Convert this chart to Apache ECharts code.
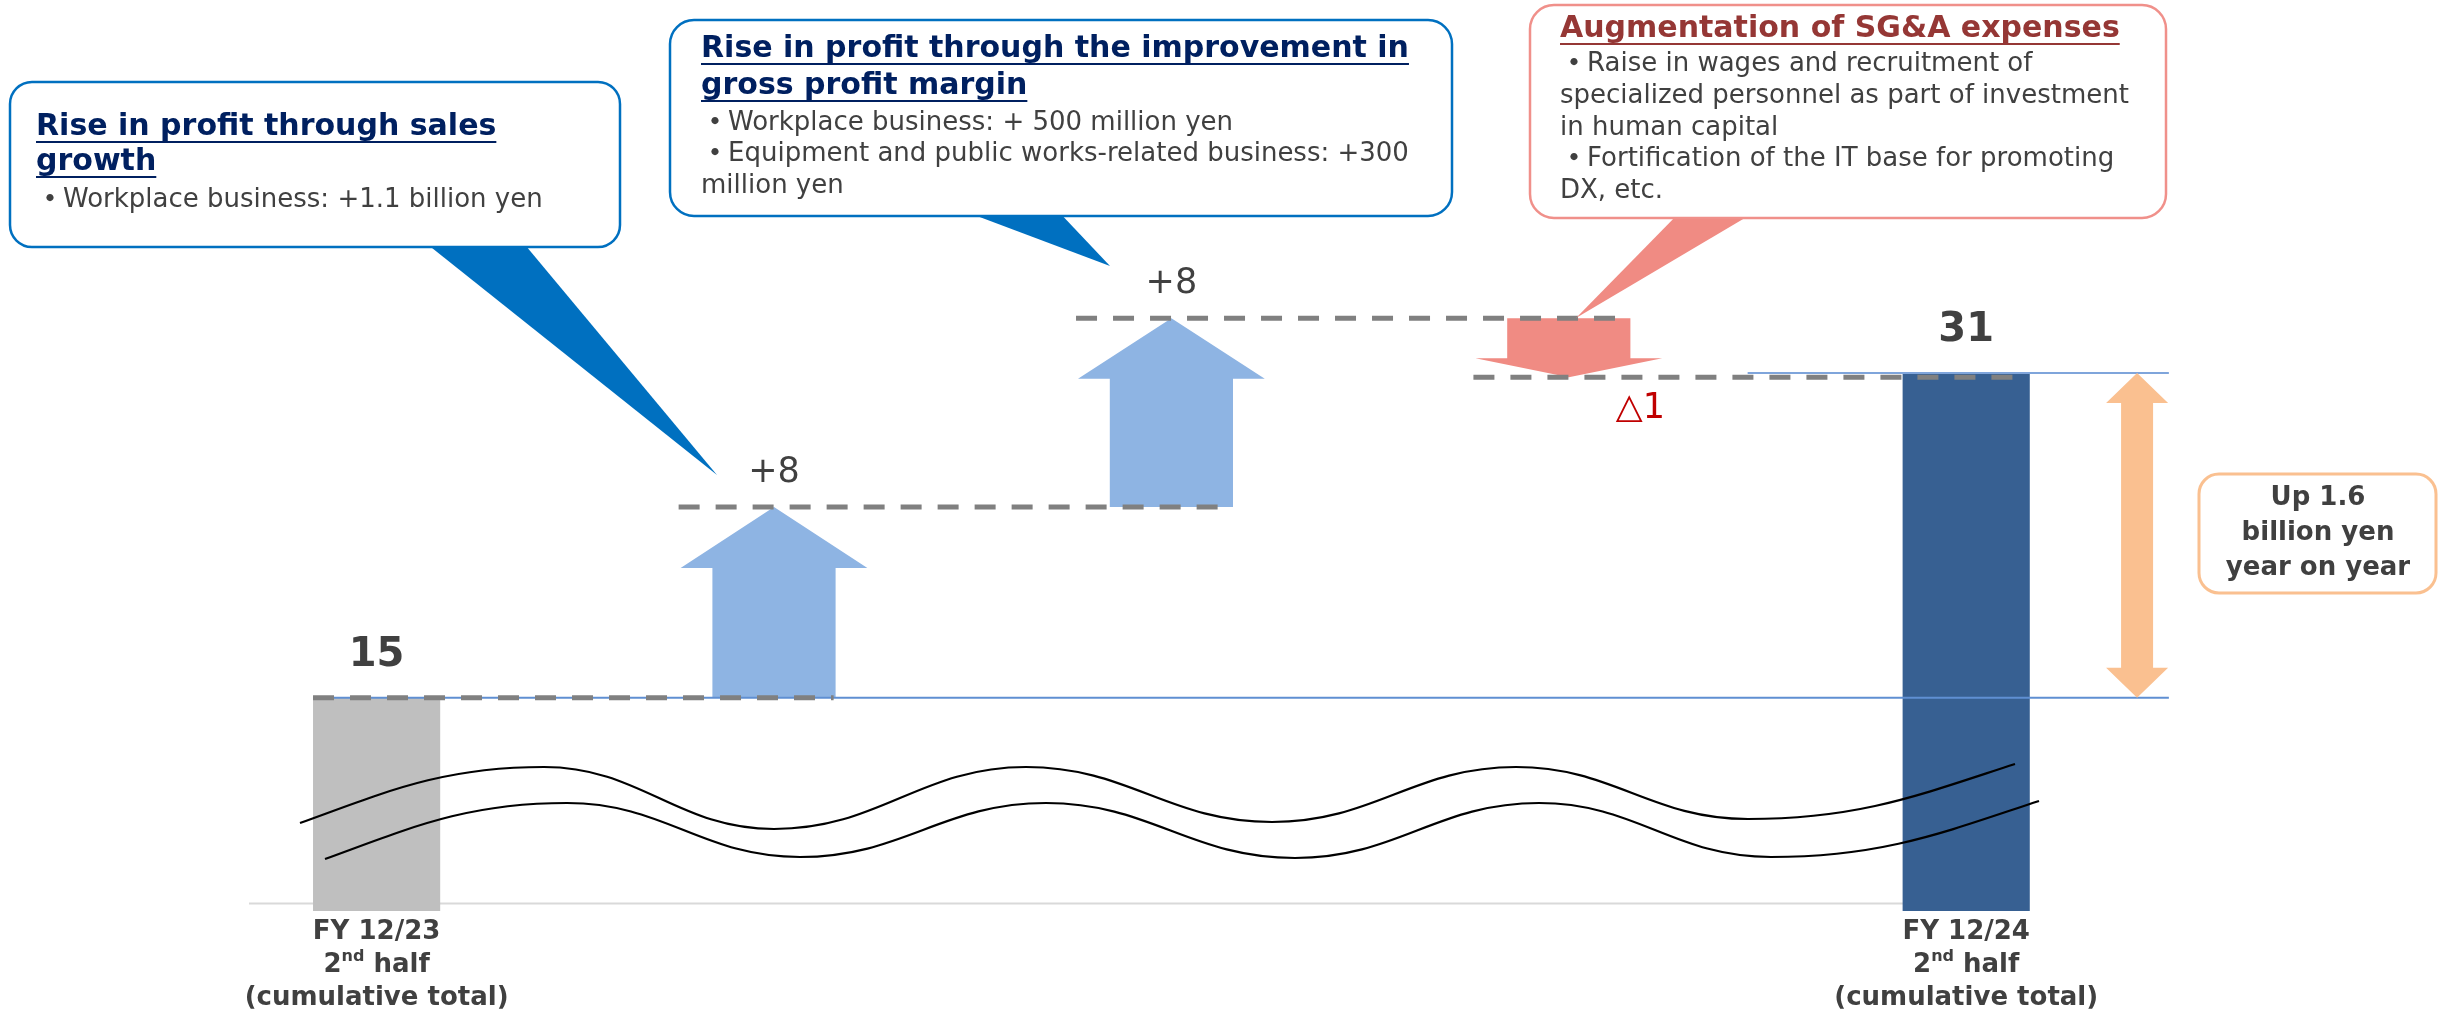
<!DOCTYPE html>
<html><head><meta charset="utf-8">
<script src="https://cdn.jsdelivr.net/npm/echarts@6/dist/echarts.min.js"></script>
<style>html,body{margin:0;padding:0;background:#fff}#chart{width:2438px;height:1014px}</style>
</head><body><div id="chart"></div>
<script>
// ---------------- data ----------------
const categories = ['FY 12/23 2nd half (cumulative total)', 'Sales growth', 'Gross profit margin improvement', 'SG&A expenses', 'FY 12/24 2nd half (cumulative total)'];
const periodNames = ['FY 12/23', '', '', '', 'FY 12/24'];
const totalIndex = [0, 4];
const totalValues = [15, 31];
// steps of the bridge (levels as drawn in the picture, broken axis)
const stepIndex = [1, 2, 3];
const stepFrom = [15, 24.4, 33.7];
const stepTo = [24.4, 33.7, 30.8];
const stepLabels = ['+8', '+8', '\u25B31'];
const yoyText = ['Up 1.6', 'billion yen', 'year on year'];

// ---------------- helpers ----------------
const FONT = '"DejaVu Sans", "Noto Sans CJK JP", sans-serif';
const BULLET_FONT = '"Noto Sans CJK JP", sans-serif';
const BULLET = '\u30FB';
const Y_MIN = 4.5, Y_MAX = 48;
const mctx = document.createElement('canvas').getContext('2d');
function textW(t, font) { mctx.font = font; return mctx.measureText(t).width; }
function textEl(t, x, baseline, size, weight, color, align, family) {
  return { type: 'text', x: x, y: baseline - 0.346 * size, z: 52,
    style: { text: t, font: weight + ' ' + size + 'px ' + (family || FONT), fill: color,
      align: align || 'left', verticalAlign: 'middle', textAlign: align || 'left', textVerticalAlign: 'middle' } };
}
function callout(c) {
  const els = [];
  els.push({ type: 'polygon', z: 49, shape: { points: c.pointer }, style: { fill: c.pointerColor } });
  els.push({ type: 'rect', z: 50, shape: { x: c.x, y: c.y, width: c.w, height: c.h, r: c.r }, style: { fill: '#ffffff', stroke: c.border, lineWidth: 2.5 } });
  c.title.forEach(function (t, k) {
    const b = c.titleBase[k];
    els.push(textEl(t, c.tx, b, 30, 'bold', c.titleColor));
    const w = textW(t, 'bold 30px ' + FONT);
    els.push({ type: 'rect', z: 52, shape: { x: c.tx, y: b + 3, width: w, height: 2 }, style: { fill: c.titleColor } });
  });
  c.body.forEach(function (t, k) {
    const b = c.bodyBase[k];
    if (t.charAt(0) === BULLET) {
      els.push(textEl(BULLET, c.tx, b - 1, 28, 'bold', '#404040', 'left', BULLET_FONT));
      els.push(textEl(t.slice(1), c.tx + 27, b, 26, 'normal', '#404040'));
    } else {
      els.push(textEl(t, c.tx, b, 26, 'normal', '#404040'));
    }
  });
  return els;
}
function wave(pts) {
  const segs = [];
  for (let k = 0; k < pts.length - 1; k++) {
    const x0 = pts[k][0], y0 = pts[k][1], x1 = pts[k + 1][0], y1 = pts[k + 1][1];
    const dx = x1 - x0, dy = y1 - y0;
    let c1 = [x0 + 0.42 * dx, y0], c2 = [x1 - 0.42 * dx, y1];
    if (k === 0) c1 = [x0 + 0.35 * dx, y0 + 0.55 * dy];
    if (k === pts.length - 2) c2 = [x1 - 0.35 * dx, y1 - 0.55 * dy];
    segs.push({ type: 'bezierCurve', z: 60,
      shape: { x1: x0, y1: y0, x2: x1, y2: y1, cpx1: c1[0], cpy1: c1[1], cpx2: c2[0], cpy2: c2[1] },
      style: { stroke: '#000000', lineWidth: 2.2, fill: 'none' } });
  }
  return segs;
}

// ---------------- series renderers ----------------
function renderTotal(params, api) {
  const i = api.value(0), v = api.value(1);
  const band = api.size([1, 0])[0];
  const top = api.coord([i, v]);
  const base = api.coord([i, Y_MIN]);
  const w = band * 0.32;
  return { type: 'group', children: [
    { type: 'rect', shape: { x: top[0] - w / 2, y: top[1], width: w, height: base[1] - top[1] },
      style: { fill: i === 0 ? '#BFBFBF' : '#376092' } },
    { type: 'text', x: top[0], y: top[1] - 42,
      style: { text: String(v), font: 'bold 40px ' + FONT, fill: '#404040', align: 'center', verticalAlign: 'middle', textAlign: 'center', textVerticalAlign: 'middle' } }
  ] };
}
function renderStep(params, api) {
  const i = api.value(0), from = api.value(1), to = api.value(2);
  const band = api.size([1, 0])[0];
  const p0 = api.coord([i, from]), p1 = api.coord([i, to]);
  const cx = p0[0];
  const sw = band * 0.31 / 2, hw = band * 0.47 / 2;
  const len = p1[1] - p0[1];
  const hy = p1[1] - len * 0.32;
  const up = to > from;
  const pts = [[cx - sw, p0[1]], [cx - sw, hy], [cx - hw, hy], [cx, p1[1]], [cx + hw, hy], [cx + sw, hy], [cx + sw, p0[1]]];
  const lab = stepLabels[params.dataIndex];
  return { type: 'group', children: [
    { type: 'polygon', shape: { points: pts }, style: { fill: up ? '#8EB4E3' : '#F08B83' } },
    { type: 'text', x: up ? cx : cx + band * 0.18, y: up ? p1[1] - 34 : p1[1] + 32,
      style: { text: lab, font: 'normal 35px ' + FONT, fill: up ? '#404040' : '#C00000', align: 'center', verticalAlign: 'middle', textAlign: 'center', textVerticalAlign: 'middle' } }
  ] };
}
function renderConnector(params, api) {
  const i = api.value(0), lv = api.value(1);
  const band = api.size([1, 0])[0];
  const a = api.coord([i, lv]), b = api.coord([i + 1, lv]);
  const x1 = a[0] - band * (i === 0 ? 0.16 : 0.24), x2 = b[0] + band * 0.15;
  return { type: 'line', shape: { x1: x1, y1: a[1], x2: x2, y2: a[1] },
    style: { stroke: '#808080', lineWidth: 5, lineDash: [21, 16] } };
}
function renderYoy(params, api) {
  const i = api.value(0), from = api.value(1), to = api.value(2);
  const band = api.size([1, 0])[0];
  const lo = api.coord([i, from]), hi = api.coord([i, to]);
  const first = api.coord([totalIndex[0], from]);
  const right = lo[0] + band * 0.51;
  const ax = lo[0] + band * 0.43;
  const sw = 16, hw = 31, hl = 30;
  const yT = hi[1], yB = lo[1];
  const pts = [[ax, yT], [ax + hw, yT + hl], [ax + sw, yT + hl], [ax + sw, yB - hl], [ax + hw, yB - hl], [ax, yB],
    [ax - hw, yB - hl], [ax - sw, yB - hl], [ax - sw, yT + hl], [ax - hw, yT + hl]];
  return { type: 'group', children: [
    { type: 'line', shape: { x1: first[0] - band * 0.16, y1: yB, x2: right, y2: yB }, style: { stroke: '#5F8FD2', lineWidth: 2 } },
    { type: 'line', shape: { x1: lo[0] - band * 0.55, y1: yT, x2: right, y2: yT }, style: { stroke: '#7FA5DB', lineWidth: 2 } },
    { type: 'polygon', shape: { points: pts }, style: { fill: '#FAC090' } }
  ] };
}

// ---------------- graphic annotations ----------------
const graphics = [];
graphics.push({ type: 'line', z: 1, shape: { x1: 249, y1: 903.5, x2: 2027, y2: 903.5 }, style: { stroke: '#D9D9D9', lineWidth: 2 } });
callout({ x: 10, y: 82, w: 610, h: 165, r: 22, border: '#0070C0', pointerColor: '#0070C0',
  pointer: [[422, 240], [521, 240], [717, 475]], tx: 36, titleColor: '#002060',
  title: ['Rise in profit through sales', 'growth'], titleBase: [138, 173],
  body: ['\u30FBWorkplace business: +1.1 billion yen'], bodyBase: [209] }).forEach(e => graphics.push(e));
callout({ x: 670, y: 20, w: 782, h: 196, r: 24, border: '#0070C0', pointerColor: '#0070C0',
  pointer: [[961, 210], [1057, 210], [1110, 266]], tx: 701, titleColor: '#002060',
  title: ['Rise in profit through the improvement in', 'gross profit margin'], titleBase: [60, 97],
  body: ['\u30FBWorkplace business: + 500 million yen', '\u30FBEquipment and public works-related business: +300', 'million yen'],
  bodyBase: [132, 163, 195] }).forEach(e => graphics.push(e));
callout({ x: 1530, y: 5, w: 636, h: 213, r: 24, border: '#F0908A', pointerColor: '#F08B83',
  pointer: [[1680, 212], [1755, 212], [1576, 318]], tx: 1560, titleColor: '#953735',
  title: ['Augmentation of SG&A expenses'], titleBase: [40],
  body: ['\u30FBRaise in wages and recruitment of', 'specialized personnel as part of investment', 'in human capital', '\u30FBFortification of the IT base for promoting', 'DX, etc.'],
  bodyBase: [73, 105, 137, 168, 200] }).forEach(e => graphics.push(e));
graphics.push({ type: 'rect', z: 50, shape: { x: 2199, y: 474, width: 237, height: 119, r: 20 }, style: { fill: '#ffffff', stroke: '#FAC090', lineWidth: 3 } });
yoyText.forEach(function (t, k) {
  graphics.push(textEl(t, 2318, 507 + k * 35, 26, 'bold', '#404040', 'center'));
});
wave([[300, 823], [544, 767], [774, 829], [1026, 767], [1272, 822], [1516, 767], [1748, 819], [2015, 764]]).forEach(e => graphics.push(e));
wave([[325, 859], [567, 803], [800, 857], [1046, 803], [1295, 858], [1539, 803], [1771, 857], [2039, 801]]).forEach(e => graphics.push(e));

// ---------------- chart ----------------
const chart = echarts.init(document.getElementById('chart'), null, { renderer: 'canvas', width: 2438, height: 1014 });
const connectorLevels = stepFrom.concat([stepTo[stepTo.length - 1]]);
chart.setOption({
  animation: false,
  backgroundColor: '#ffffff',
  grid: { left: 177.9, right: 273.1, top: 28, bottom: 103, containLabel: false, outerBoundsMode: 'none' },
  xAxis: {
    type: 'category', data: categories,
    axisLine: { show: false }, axisTick: { show: false }, splitLine: { show: false },
    axisLabel: {
      interval: 0, margin: 5,
      formatter: function (v, idx) {
        const p = periodNames[idx];
        if (!p) return '';
        return '{b|' + p + '}\n{b|2}{s|nd}{b| half}\n{b|(cumulative total)}';
      },
      rich: {
        b: { fontFamily: FONT, fontWeight: 'bold', fontSize: 26, lineHeight: 33, color: '#404040' },
        s: { fontFamily: FONT, fontWeight: 'bold', fontSize: 16, lineHeight: 24, color: '#404040', verticalAlign: 'top' }
      }
    }
  },
  yAxis: { type: 'value', min: Y_MIN, max: Y_MAX, show: false, splitLine: { show: false } },
  series: [
    { type: 'custom', name: 'Totals', z: 2, renderItem: renderTotal,
      data: totalIndex.map((c, k) => [c, totalValues[k]]) },
    { type: 'custom', name: 'Changes', z: 3, renderItem: renderStep,
      data: stepIndex.map((c, k) => [c, stepFrom[k], stepTo[k]]) },
    { type: 'custom', name: 'YoY', z: 4, renderItem: renderYoy,
      data: [[totalIndex[1], totalValues[0], totalValues[1]]] },
    { type: 'custom', name: 'Connectors', z: 5, renderItem: renderConnector,
      data: connectorLevels.map((lv, k) => [k, lv]) }
  ],
  graphic: { elements: graphics }
});
</script>
</body></html>
